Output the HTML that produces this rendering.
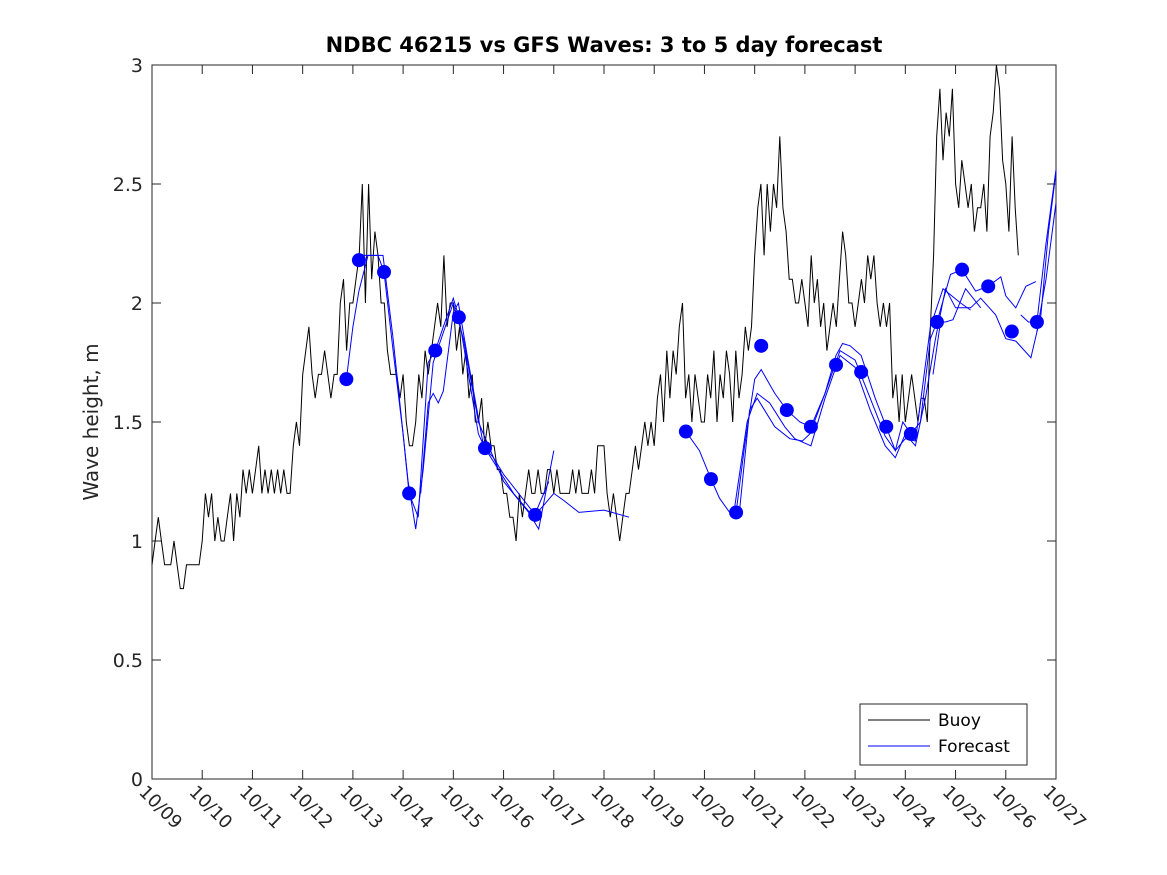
<!DOCTYPE html>
<html><head><meta charset="utf-8"><style>
body{margin:0;background:#fff;}
svg{display:block;font-family:"DejaVu Sans","Liberation Sans",sans-serif;}
</style></head><body>
<svg id="chart" width="1167" height="875">
<rect width="1167" height="875" fill="#fff"/>
<text x="604" y="52" text-anchor="middle" font-size="21" font-weight="bold" fill="#000">NDBC 46215 vs GFS Waves: 3 to 5 day forecast</text>
<text transform="translate(98,422) rotate(-90)" text-anchor="middle" font-size="20" fill="#262626">Wave height, m</text>
<g id="axes"></g>
<g id="series"></g>
<g id="legend">
<rect x="860" y="704" width="167" height="61" fill="#fff" stroke="#262626" stroke-width="1"/>
<line x1="868" y1="720" x2="930" y2="720" stroke="#000"/>
<text x="938" y="726" font-size="17" fill="#000">Buoy</text>
<line x1="868" y1="746" x2="930" y2="746" stroke="#0000ff"/>
<text x="938" y="752" font-size="17" fill="#000">Forecast</text>
</g>
</svg>
<script>
const xTickLabels=["10/09","10/10","10/11","10/12","10/13","10/14","10/15","10/16","10/17","10/18","10/19","10/20","10/21","10/22","10/23","10/24","10/25","10/26","10/27"];
const yTicks=[0,0.5,1,1.5,2,2.5,3];
const yTickLabels=["0","0.5","1","1.5","2","2.5","3"];
// buoy: values every 1.5 hours starting 10/09 00:00 (16 per day)
const buoy=[0.9,1.0,1.1,1.0,0.9,0.9,0.9,1.0,0.9,0.8,0.8,0.9,0.9,0.9,0.9,0.9,
1.0,1.2,1.1,1.2,1.0,1.1,1.0,1.0,1.1,1.2,1.0,1.2,1.1,1.3,1.2,1.3,
1.2,1.3,1.4,1.2,1.3,1.2,1.3,1.2,1.3,1.2,1.3,1.2,1.2,1.4,1.5,1.4,
1.7,1.8,1.9,1.7,1.6,1.7,1.7,1.8,1.7,1.6,1.7,1.7,2.0,2.1,1.8,2.0,
2.0,2.1,2.2,2.5,2.0,2.5,2.1,2.3,2.2,2.0,2.0,1.8,1.7,1.7,1.7,1.6,
1.7,1.5,1.4,1.4,1.5,1.7,1.6,1.8,1.7,1.8,1.9,2.0,1.9,2.2,1.9,2.0,
2.0,1.8,1.9,1.7,1.8,1.6,1.7,1.5,1.5,1.6,1.4,1.5,1.4,1.4,1.3,1.3,
1.2,1.2,1.1,1.1,1.0,1.2,1.1,1.2,1.3,1.2,1.2,1.3,1.2,1.2,1.3,1.3,
1.2,1.3,1.2,1.2,1.2,1.2,1.3,1.2,1.3,1.2,1.2,1.2,1.3,1.2,1.4,1.4,
1.4,1.2,1.1,1.2,1.1,1.0,1.1,1.2,1.2,1.3,1.4,1.3,1.4,1.5,1.4,1.5,
1.4,1.6,1.7,1.5,1.8,1.6,1.8,1.7,1.9,2.0,1.6,1.7,1.5,1.7,1.6,1.5,
1.5,1.7,1.6,1.8,1.5,1.7,1.6,1.8,1.7,1.5,1.8,1.6,1.7,1.9,1.8,1.9,
2.2,2.4,2.5,2.2,2.5,2.3,2.5,2.4,2.7,2.4,2.3,2.1,2.1,2.0,2.0,2.1,
2.0,1.9,2.2,2.0,2.1,1.9,2.0,1.8,1.9,2.0,1.9,2.1,2.3,2.2,2.0,2.0,
1.9,2.0,2.1,2.0,2.2,2.1,2.2,2.0,1.9,2.0,1.9,2.0,1.6,1.7,1.5,1.7,
1.5,1.6,1.7,1.6,1.5,1.6,1.6,1.5,1.9,2.2,2.7,2.9,2.6,2.8,2.7,2.9,
2.5,2.4,2.6,2.5,2.4,2.5,2.3,2.4,2.4,2.5,2.3,2.7,2.8,3.0,2.9,2.6,
2.5,2.3,2.7,2.4,2.2];
const fcDays1=[3.87,4.0,4.12,4.3,4.5,4.62,4.8,5.0,5.12,5.3,5.5,5.64,5.8,6.0,6.11,6.3,6.5,6.63,6.8,7.0,7.3,7.63,7.8,8.0,8.2,8.5,9.0,9.5];
const fcVals1=[1.68,1.9,2.05,2.2,2.2,2.13,1.8,1.45,1.2,1.1,1.75,1.8,1.9,2.02,1.94,1.7,1.45,1.39,1.35,1.28,1.2,1.11,1.15,1.2,1.17,1.12,1.13,1.1];
const fcDays2=[4.2,4.6,4.8,5.1,5.25,5.4,5.6,6.0,6.2,6.5,7.0,7.5,7.7,8.0];
const fcVals2=[2.2,2.2,1.85,1.25,1.05,1.3,1.75,2.0,1.85,1.5,1.25,1.12,1.05,1.38];
const fcDays3=[5.35,5.5,5.6,5.7,5.8,6.0,6.1,6.3,6.6,6.9,7.2,7.6,7.9];
const fcVals3=[1.2,1.58,1.62,1.58,1.63,1.96,2.0,1.75,1.4,1.3,1.2,1.1,1.25];
const fcDays4=[10.63,10.9,11.13,11.3,11.5,11.63,11.8,12.0,12.13,12.4,12.64,12.9,13.12,13.4,13.62,13.75,13.9,14.12,14.4,14.62,14.8,14.95,15.11,15.3,15.5,15.63,15.9,16.13,16.4,16.65,16.9,17.0,17.2,17.4,17.6];
const fcVals4=[1.46,1.38,1.26,1.18,1.12,1.12,1.4,1.68,1.72,1.62,1.55,1.5,1.48,1.62,1.78,1.83,1.82,1.78,1.6,1.48,1.38,1.5,1.45,1.5,1.85,1.92,2.12,2.14,2.05,2.07,2.11,2.03,1.98,2.07,2.09];
const fcDays5=[11.6,11.85,12.05,12.3,12.6,12.8,13.12,13.4,13.7,14.0,14.3,14.6,14.8,15.0,15.2,15.4,15.6,15.8,16.0,16.3,16.5,16.8,17.0,17.2,17.5,17.7,17.85,18.0];
const fcVals5=[1.14,1.5,1.62,1.58,1.48,1.43,1.4,1.6,1.78,1.73,1.55,1.4,1.35,1.45,1.4,1.6,1.85,2.06,1.98,1.98,2.02,1.95,1.85,1.84,1.77,1.95,2.3,2.55];
const fcDays6=[11.7,11.9,12.05,12.4,12.7,12.95,13.1,13.4,13.7,14.0,14.3,14.6,14.8,15.0,15.2,15.5,15.75,16.1,16.3];
const fcVals6=[1.13,1.55,1.6,1.48,1.43,1.42,1.45,1.62,1.8,1.76,1.6,1.44,1.38,1.43,1.42,1.9,2.06,2.0,1.97];
const fcDays7=[15.55,15.7,15.8,15.95,16.2,16.5];
const fcVals7=[1.7,1.92,1.92,1.93,2.06,1.98];
const fcDays8=[17.3,17.45,17.62,17.8,18.0];
const fcVals8=[1.95,1.92,1.92,2.25,2.56];
const fcDays9=[17.62,17.8,18.0];
const fcVals9=[1.88,2.1,2.42];
const markDays=[3.87,4.12,4.62,5.12,5.64,6.11,6.63,7.63,10.63,11.13,11.63,12.13,12.64,13.12,13.62,14.12,14.62,15.11,15.63,16.13,16.65,17.12,17.62];
const markVals=[1.68,2.18,2.13,1.2,1.8,1.94,1.39,1.11,1.46,1.26,1.12,1.82,1.55,1.48,1.74,1.71,1.48,1.45,1.92,2.14,2.07,1.88,1.92];

const X0=152,X1=1056,Y0=779,Y1=65;
function xs(d){return X0+d*(X1-X0)/18;}
function ys(v){return Y0-v*(Y0-Y1)/3;}
const NS="http://www.w3.org/2000/svg";
function mk(tag,attrs,parent){const e=document.createElementNS(NS,tag);for(const k in attrs)e.setAttribute(k,attrs[k]);parent.appendChild(e);return e;}
const axes=document.getElementById('axes'),ser=document.getElementById('series');
const box=mk('rect',{x:X0,y:Y1,width:X1-X0,height:Y0-Y1,fill:'none',stroke:'#262626','stroke-width':1},axes);


xTickLabels.forEach((l,i)=>{
 const x=xs(i);
 const t1=mk('line',{x1:x,y1:Y0,x2:x,y2:Y0-9,stroke:'#262626'},axes);
 
 
 const t2=mk('line',{x1:x,y1:Y1,x2:x,y2:Y1+9,stroke:'#262626'},axes);
 
 
 const tx=mk('text',{transform:`translate(${x-14},${Y0+14}) rotate(45)`,'font-size':18,fill:'#262626'},axes);
 tx.textContent=l;
 
 
});
yTicks.forEach((v,i)=>{
 const y=ys(v);
 const t1=mk('line',{x1:X0,y1:y,x2:X0+9,y2:y,stroke:'#262626'},axes);
 
 
 const t2=mk('line',{x1:X1,y1:y,x2:X1-9,y2:y,stroke:'#262626'},axes);
 
 
 const tx=mk('text',{x:X0-9,y:y+7,'text-anchor':'end','font-size':19,fill:'#262626'},axes);
 tx.textContent=yTickLabels[i];
 
 
});
const bp=buoy.map((v,i)=>xs(i/16).toFixed(1)+','+ys(v).toFixed(1)).join(' ');
const bl=mk('polyline',{points:bp,fill:'none',stroke:'#000','stroke-width':1},ser);


const fcs=[[fcDays1,fcVals1],[fcDays2,fcVals2],[fcDays3,fcVals3],[fcDays4,fcVals4],[fcDays5,fcVals5],[fcDays6,fcVals6],[fcDays7,fcVals7],[fcDays8,fcVals8],[fcDays9,fcVals9]];
fcs.forEach(([d,v])=>{
 const p=d.map((dd,i)=>xs(dd).toFixed(1)+','+ys(v[i]).toFixed(1)).join(' ');
 const l=mk('polyline',{points:p,fill:'none',stroke:'#0000ff','stroke-width':1},ser);
 
 
});
markDays.forEach((d,i)=>{
 const c=mk('circle',{cx:xs(d),cy:ys(markVals[i]),r:7,fill:'#0000ff'},ser);
 
 
});
</script>
</body></html>
